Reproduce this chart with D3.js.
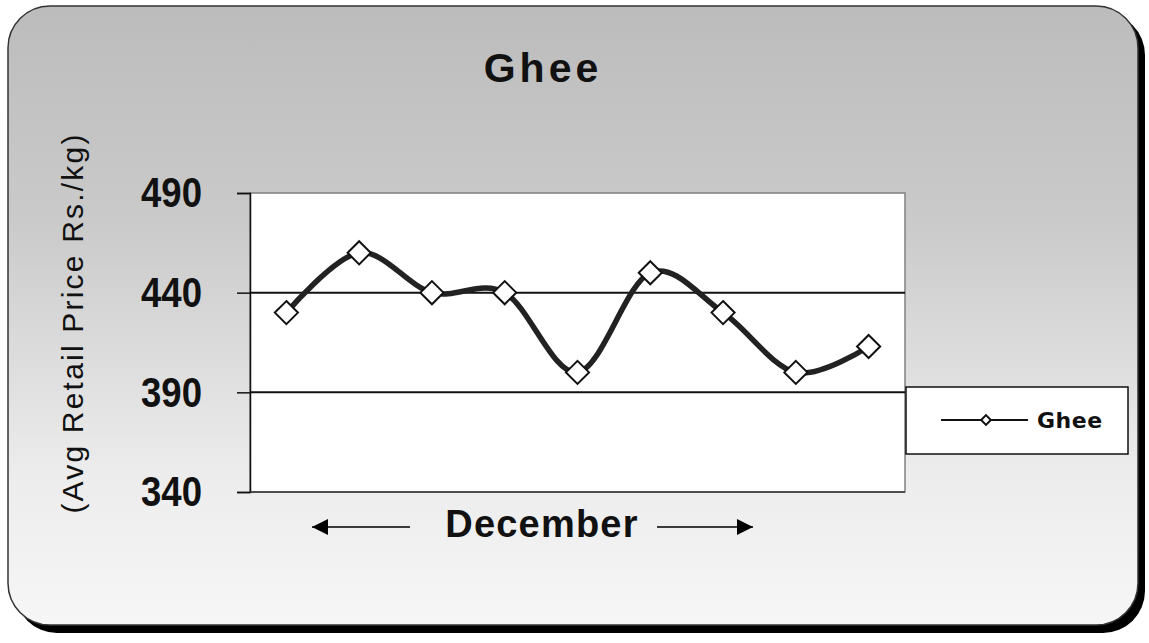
<!DOCTYPE html>
<html><head><meta charset="utf-8">
<script src="https://cdn.jsdelivr.net/npm/d3@7"></script>
<style>html,body{margin:0;padding:0;background:#fff;}svg{display:block;}</style>
</head><body>
<script>
const categories = ["1","2","3","4","5","6","7","8","9"];
const values = [430, 460, 440, 440, 400, 450, 430, 400, 413];
const yTicks = [340, 390, 440, 490];
const seriesName = "Ghee";
const title = "Ghee";
const yLabel = "(Avg Retail Price Rs./kg)";
const xLabel = "December";

const W = 1149, H = 643;
const svg = d3.select("body").append("svg").attr("width", W).attr("height", H);
const defs = svg.append("defs");
const grad = defs.append("linearGradient").attr("id","bg").attr("x1",0).attr("y1",0).attr("x2",0).attr("y2",1);
grad.append("stop").attr("offset","0%").attr("stop-color","#bcbcbc");
grad.append("stop").attr("offset","35%").attr("stop-color","#cacaca");
grad.append("stop").attr("offset","75%").attr("stop-color","#ececec");
grad.append("stop").attr("offset","100%").attr("stop-color","#f6f6f6");

// shadow + background
svg.append("rect").attr("x",15).attr("y",13).attr("width",1130).attr("height",620).attr("rx",42).attr("fill","#000");
svg.append("rect").attr("x",8).attr("y",6).attr("width",1130).attr("height",619).attr("rx",42)
  .attr("fill","url(#bg)").attr("stroke","#333").attr("stroke-width",1.5);

const plot = {left:250, right:905, top:193, bottom:492};
const x = d3.scaleBand().domain(categories).range([plot.left, plot.right]);
const y = d3.scaleLinear().domain([340, 490]).range([plot.bottom, plot.top]);

svg.append("rect").attr("x",plot.left).attr("y",plot.top).attr("width",plot.right-plot.left).attr("height",plot.bottom-plot.top)
  .attr("fill","#fff").attr("stroke","#808080").attr("stroke-width",1.5);

// gridlines
svg.append("g").selectAll("line").data(yTicks.filter(d=>d>340 && d<490)).join("line")
  .attr("x1",plot.left).attr("x2",plot.right).attr("y1",d=>y(d)).attr("y2",d=>y(d))
  .attr("stroke","#111").attr("stroke-width",2);

// y axis
const sx = 0.85;
const yAxis = d3.axisLeft(y).tickValues(yTicks).tickSize(13).tickPadding(35).tickFormat(d3.format("d"));
const ya = svg.append("g").attr("transform",`translate(${plot.left},0)`).call(yAxis);
ya.select(".domain").attr("stroke","#111").attr("stroke-width",1.5);
ya.selectAll(".tick line").attr("stroke","#111").attr("stroke-width",1.5);
ya.selectAll(".tick text").attr("font-family","'Liberation Sans',Arial,sans-serif")
  .attr("font-weight","bold").attr("font-size",43).attr("fill","#111")
  .attr("x",-48/sx).attr("transform",`scale(${sx},1)`);
// bottom line
svg.append("line").attr("x1",plot.left).attr("x2",plot.right).attr("y1",plot.bottom).attr("y2",plot.bottom)
  .attr("stroke","#333").attr("stroke-width",1.5);

// line
const line = d3.line().x((d,i)=>x(categories[i])+x.bandwidth()/2).y(d=>y(d)).curve(d3.curveCatmullRom.alpha(0));
svg.append("path").datum(values).attr("d",line).attr("fill","none").attr("stroke","#222").attr("stroke-width",5.5);

const diamond = d3.symbol().type(d3.symbolDiamond2).size(340);
svg.append("g").selectAll("path").data(values).join("path")
  .attr("d",diamond)
  .attr("transform",(d,i)=>`translate(${x(categories[i])+x.bandwidth()/2},${y(d)})`)
  .attr("fill","#fff").attr("stroke","#111").attr("stroke-width",2);

// title
svg.append("text").attr("x",543).attr("y",82).attr("text-anchor","middle")
  .attr("font-family","'Liberation Sans',Arial,sans-serif").attr("font-weight","bold").attr("font-size",41)
  .attr("letter-spacing",4).attr("fill","#111").text(title);

// y label
svg.append("text").attr("transform","translate(83,323) rotate(-90)").attr("text-anchor","middle")
  .attr("font-family","'Liberation Sans',Arial,sans-serif").attr("font-size",30).attr("letter-spacing",2.2).attr("fill","#111")
  .text(yLabel);

// x label with arrows
svg.append("text").attr("x",542).attr("y",537).attr("text-anchor","middle")
  .attr("font-family","'Liberation Sans',Arial,sans-serif").attr("font-weight","bold").attr("font-size",38)
  .attr("letter-spacing",1.2).attr("fill","#111").text(xLabel);
defs.append("marker").attr("id","ah").attr("viewBox","0 0 10 10").attr("refX",10).attr("refY",5)
  .attr("markerWidth",22).attr("markerHeight",16).attr("markerUnits","userSpaceOnUse").attr("orient","auto")
  .append("path").attr("d","M0,0 L10,5 L0,10 Z").attr("fill","#000");
svg.append("line").attr("x1",410).attr("x2",312).attr("y1",527).attr("y2",527).attr("stroke","#000").attr("stroke-width",1.5).attr("marker-end","url(#ah)");
svg.append("line").attr("x1",657).attr("x2",753).attr("y1",527).attr("y2",527).attr("stroke","#000").attr("stroke-width",1.5).attr("marker-end","url(#ah)");

// legend
const lg = svg.append("g");
lg.append("rect").attr("x",906).attr("y",387).attr("width",222).attr("height",67).attr("fill","#fff").attr("stroke","#111").attr("stroke-width",1.5);
lg.append("line").attr("x1",941).attr("x2",1028).attr("y1",420).attr("y2",420).attr("stroke","#111").attr("stroke-width",2);
lg.append("path").attr("d",d3.symbol().type(d3.symbolDiamond2).size(60)).attr("transform","translate(986,420)")
  .attr("fill","#fff").attr("stroke","#111").attr("stroke-width",2);
lg.append("text").attr("x",1037).attr("y",428).attr("font-family","'DejaVu Sans',Verdana,sans-serif").attr("font-weight","bold")
  .attr("font-size",22).attr("letter-spacing",0.5).attr("fill","#111").text(seriesName);
</script>
</body></html>
